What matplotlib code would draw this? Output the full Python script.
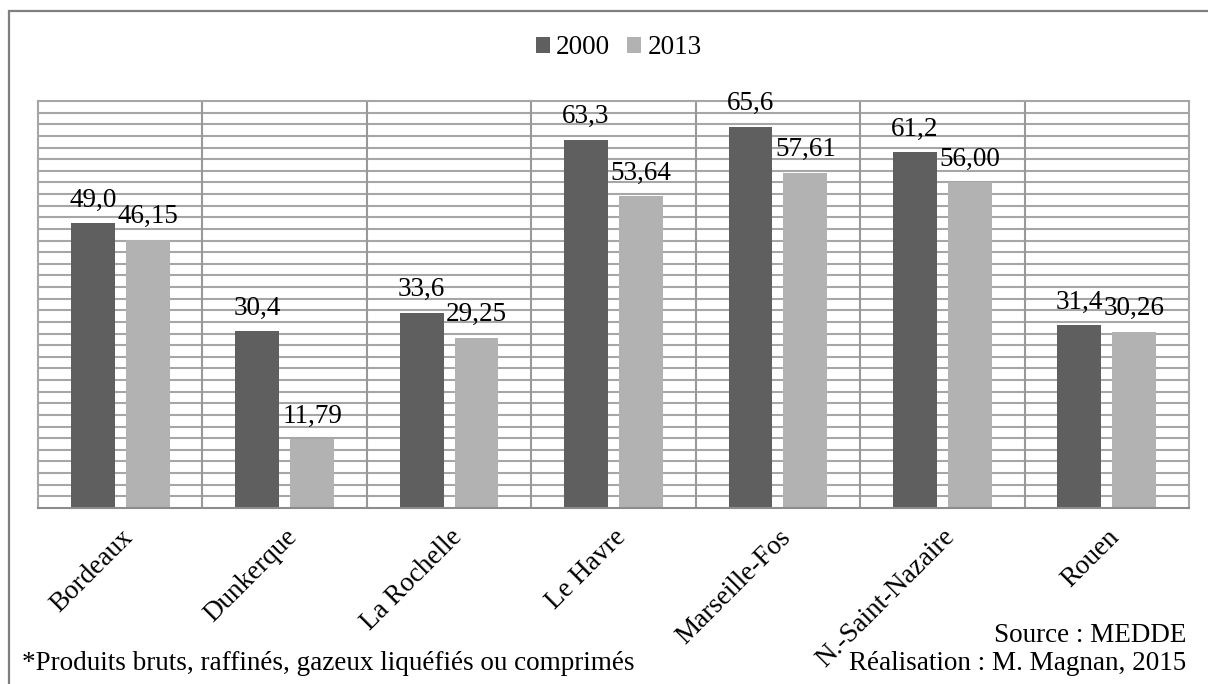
import matplotlib
matplotlib.use("Agg")
import matplotlib.pyplot as plt
import numpy as np
from matplotlib.patches import Rectangle

categories = ["Bordeaux", "Dunkerque", "La Rochelle", "Le Havre", "Marseille-Fos",
              "N.-Saint-Nazaire", "Rouen"]
values_2000 = [49.0, 30.4, 33.6, 63.3, 65.6, 61.2, 31.4]
values_2013 = [46.15, 11.79, 29.25, 53.64, 57.61, 56.00, 30.26]
labels_2000 = ["49,0", "30,4", "33,6", "63,3", "65,6", "61,2", "31,4"]
labels_2013 = ["46,15", "11,79", "29,25", "53,64", "57,61", "56,00", "30,26"]
series_names = ["2000", "2013"]

plt.rcParams['font.family'] = ['Liberation Serif', 'DejaVu Serif']
FS = 19.5

fig = plt.figure(figsize=(12.08, 6.84), dpi=100)
fig.patches.append(Rectangle((9/1208, -0.05), 1.2, 1 - 11/684 + 0.05, transform=fig.transFigure,
                             fill=False, edgecolor='#7f7f7f', linewidth=1.6, zorder=0))

ax = fig.add_axes([38/1208, 1 - 508/684, 1151/1208, 407/684])
x = np.arange(len(categories))
w = 0.267
off = 0.167
dark = '#5f5f5f'
light = '#b2b2b2'
grid = '#a6a6a6'

for yv in np.arange(2, 70, 2):
    ax.axhline(yv, color=grid, linewidth=1.5, zorder=0)
for xv in np.arange(0.5, len(categories) - 0.5, 1):
    ax.axvline(xv, color='#999999', linewidth=1.5, zorder=0)

b1 = ax.bar(x - off, values_2000, w, color=dark, zorder=2, label=series_names[0])
b2 = ax.bar(x + off, values_2013, w, color=light, zorder=2, label=series_names[1])

for xi, v, s in zip(x - off, values_2000, labels_2000):
    ax.annotate(s, (xi, v), xytext=(0, 12), textcoords='offset points',
                ha='center', va='baseline', fontsize=FS)
for xi, v, s in zip(x + off, values_2013, labels_2013):
    ax.annotate(s, (xi, v), xytext=(0, 12), textcoords='offset points',
                ha='center', va='baseline', fontsize=FS)

ax.set_xlim(-0.5, len(categories) - 0.5)
ax.set_ylim(0, 70)
ax.set_yticks([])
ax.set_xticks(x)
ax.set_xticklabels(categories, rotation=45, ha='right', rotation_mode='anchor', fontsize=FS)
ax.tick_params(axis='x', length=0, pad=12)
for sp in ax.spines.values():
    sp.set_color(grid)
    sp.set_linewidth(1.5)
ax.spines['bottom'].set_color('#8c8c8c')

fig.legend(handles=[b1, b2], labels=series_names, loc='center', bbox_to_anchor=(0.512, 1 - 48/684),
           ncol=2, frameon=False, fontsize=FS, handlelength=0.52, handleheight=0.52,
           handletextpad=0.22, columnspacing=0.65)

fig.text(22/1208, 1 - 663/684, "*Produits bruts, raffinés, gazeux liquéfiés ou comprimés",
         fontsize=FS, ha='left', va='center')
fig.text(1186/1208, 1 - 636/684, "Source : MEDDE", fontsize=FS, ha='right', va='center')
fig.text(1186/1208, 1 - 664/684, "Réalisation : M. Magnan, 2015", fontsize=FS, ha='right', va='center')

fig.savefig("out.png", dpi=100)
